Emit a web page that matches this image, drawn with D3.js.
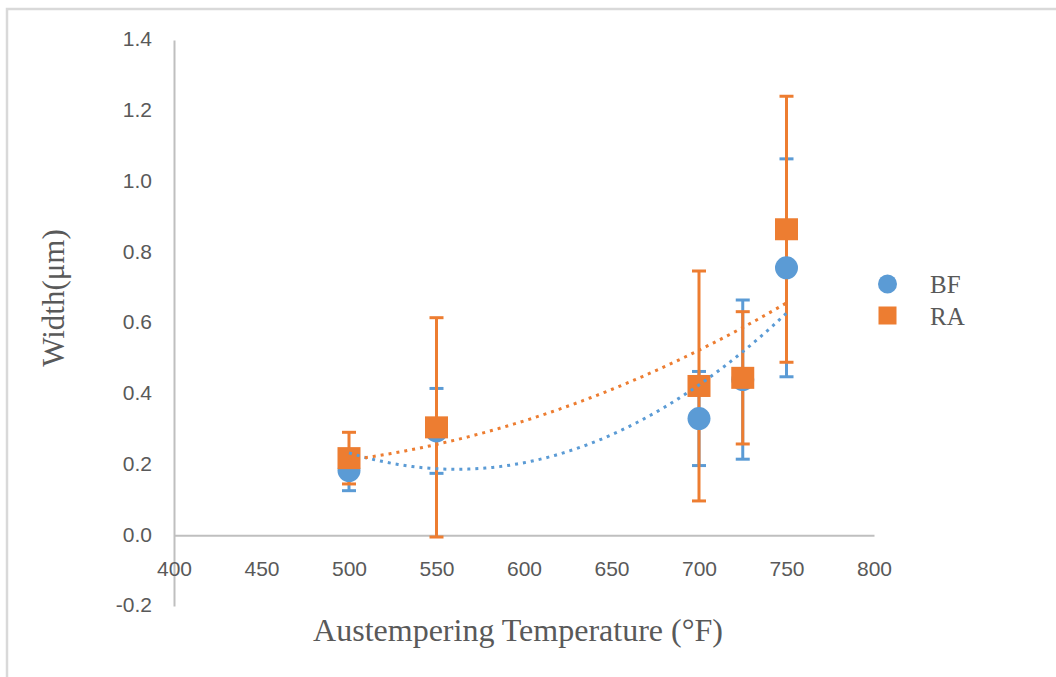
<!DOCTYPE html>
<html>
<head>
<meta charset="utf-8">
<script src="https://cdn.jsdelivr.net/npm/d3@7"></script>
<style>
  html, body { margin: 0; padding: 0; background: #fff; }
  svg { display: block; }
</style>
</head>
<body>
<svg id="chart" width="1056" height="677"></svg>
<script>
// Austempering temperature (°F)
const temps = [500, 550, 700, 725, 750];

// Bainitic ferrite (BF) width, µm, with error (±)
const bfWidth = [0.183, 0.295, 0.33, 0.44, 0.756];
const bfError = [0.057, 0.12, 0.133, 0.225, 0.308];

// Retained austenite (RA) width, µm, with error (±)
const raWidth = [0.218, 0.305, 0.422, 0.445, 0.865];
const raError = [0.073, 0.31, 0.325, 0.187, 0.376];

// Second-order polynomial trendlines, y = c0 + c1*t + c2*t², t = (T - 650) / 50
const trendCenter = 650, trendSpan = 50;
const bfTrend = [0.284, 0.110, 0.031];
const raTrend = [0.412, 0.100, 0.0112];

const xTicks = [400, 450, 500, 550, 600, 650, 700, 750, 800];
const yTicks = [-0.2, 0.0, 0.2, 0.4, 0.6, 0.8, 1.0, 1.2, 1.4];

const BLUE = "#5B9BD5", ORANGE = "#ED7D31";

const svg = d3.select("#chart");

// outer chart frame
svg.append("rect")
  .attr("x", 7).attr("y", 9).attr("width", 1200).attr("height", 1000)
  .attr("fill", "none").attr("stroke", "#d9d9d9").attr("stroke-width", 2.5);

const x = d3.scaleLinear().domain([400, 800]).range([174, 874]);
const y = d3.scaleLinear().domain([-0.2, 1.4]).range([606, 40]);

// one-decimal labels with a plain hyphen for negatives
const fmtY = v => d3.format(".1f")(v).replace("\u2212", "-");

// y axis
const yAxis = svg.append("g")
  .attr("transform", `translate(${x(400)},0)`)
  .call(d3.axisLeft(y).tickValues(yTicks).tickFormat(fmtY)
    .tickSizeInner(0).tickSizeOuter(0).tickPadding(22));
yAxis.select(".domain").attr("stroke", "#bfbfbf").attr("stroke-width", 2);
yAxis.selectAll("text")
  .attr("font-family", "'Liberation Sans', Arial, sans-serif")
  .attr("font-size", 21).attr("fill", "#595959").attr("dy", "0.28em");

// x axis along y = 0
const xAxis = svg.append("g")
  .attr("transform", `translate(0,${y(0)})`)
  .call(d3.axisBottom(x).tickValues(xTicks).tickFormat(d3.format("d"))
    .tickSizeInner(0).tickSizeOuter(0).tickPadding(26));
xAxis.select(".domain").attr("stroke", "#bfbfbf").attr("stroke-width", 2);
xAxis.selectAll("text")
  .attr("font-family", "'Liberation Sans', Arial, sans-serif")
  .attr("font-size", 21).attr("fill", "#595959");

// axis titles
svg.append("text")
  .attr("x", 518).attr("y", 641)
  .attr("text-anchor", "middle")
  .attr("font-family", "'Liberation Serif', 'Times New Roman', serif")
  .attr("font-size", 32).attr("fill", "#595959")
  .text("Austempering Temperature (°F)");

svg.append("text")
  .attr("transform", "translate(64,298) rotate(-90)")
  .attr("text-anchor", "middle")
  .attr("font-family", "'Liberation Serif', 'Times New Roman', serif")
  .attr("font-size", 31).attr("fill", "#595959")
  .text("Width(μm)");

const series = [
  { name: "BF", color: BLUE, vals: bfWidth, errs: bfError, coef: bfTrend, shape: "circle" },
  { name: "RA", color: ORANGE, vals: raWidth, errs: raError, coef: raTrend, shape: "square" }
];

// error bars
series.forEach(s => {
  const g = svg.append("g").attr("stroke", s.color).attr("stroke-width", 3);
  temps.forEach((t, i) => {
    const lo = s.vals[i] - s.errs[i], hi = s.vals[i] + s.errs[i];
    g.append("line").attr("x1", x(t)).attr("x2", x(t)).attr("y1", y(hi)).attr("y2", y(lo));
    g.append("line").attr("x1", x(t) - 7).attr("x2", x(t) + 7).attr("y1", y(hi)).attr("y2", y(hi));
    g.append("line").attr("x1", x(t) - 7).attr("x2", x(t) + 7).attr("y1", y(lo)).attr("y2", y(lo));
  });
});

// markers
series.forEach(s => {
  const g = svg.append("g").attr("fill", s.color);
  temps.forEach((t, i) => {
    if (s.shape === "circle") {
      g.append("circle").attr("cx", x(t)).attr("cy", y(s.vals[i])).attr("r", 11.5);
    } else {
      g.append("rect").attr("x", x(t) - 11.5).attr("y", y(s.vals[i]) - 11)
        .attr("width", 23).attr("height", 22);
    }
  });
});

// dotted polynomial trendlines
const poly = (c, T) => {
  const t = (T - trendCenter) / trendSpan;
  return c[0] + c[1] * t + c[2] * t * t;
};
const trendX = d3.range(temps[0], temps[temps.length - 1] + 0.5, 2);
const line = d3.line().x(d => x(d[0])).y(d => y(d[1])).curve(d3.curveLinear);
series.forEach(s => {
  svg.append("path")
    .datum(trendX.map(T => [T, poly(s.coef, T)]))
    .attr("d", line)
    .attr("fill", "none")
    .attr("stroke", s.color)
    .attr("stroke-width", 3)
    .attr("stroke-dasharray", "3 5");
});

// legend
const legend = svg.append("g");
legend.append("circle").attr("cx", 887.5).attr("cy", 284).attr("r", 9.5).attr("fill", BLUE);
legend.append("rect").attr("x", 878.5).attr("y", 306.5).attr("width", 18).attr("height", 18).attr("fill", ORANGE);
legend.selectAll("text.lab")
  .data(series)
  .join("text")
  .attr("class", "lab")
  .attr("x", 930)
  .attr("y", (d, i) => 293 + i * 32)
  .attr("font-family", "'Liberation Serif', 'Times New Roman', serif")
  .attr("font-size", 25).attr("fill", "#595959")
  .text(d => d.name);
</script>
</body>
</html>
